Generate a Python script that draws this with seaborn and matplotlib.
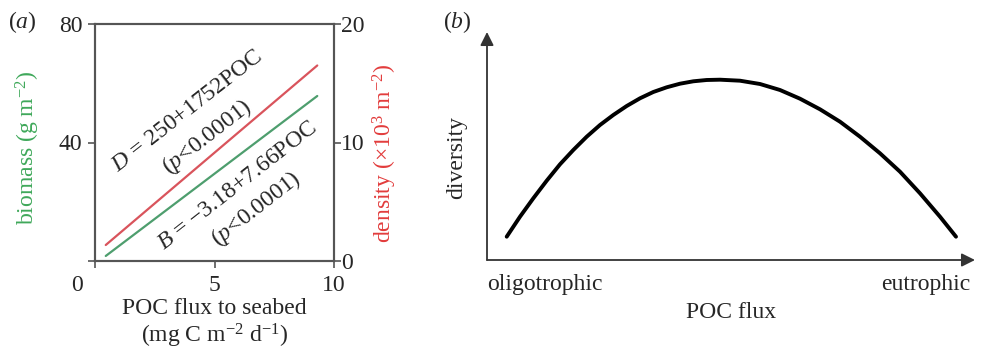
import numpy as np
import pandas as pd
import matplotlib
matplotlib.use("Agg")
import matplotlib.pyplot as plt
import seaborn as sns

# panel (a): fitted regression lines
poc = [0.45, 9.3]            # POC flux to seabed
biomass = [1.7, 55.7]        # g m-2 (left axis)
density = [1.35, 16.5]       # x10^3 m-2 (right axis)

# panel (b): conceptual hump curve (arbitrary units)
flux_b = [19.7, 33, 46.3, 59.7, 73, 86.3, 99.7, 113, 126.3, 139.7, 153, 166.3,
          179.7, 193, 206.3, 219.7, 233, 253, 273, 293, 313, 333, 353, 373,
          393, 413, 433, 453, 469]
div_b = [23.3, 43.3, 61.7, 79.3, 95.7, 110, 123.3, 135, 145, 154, 161.7, 168,
         172.7, 176.3, 178.7, 180, 180.3, 179.3, 176, 170, 161.3, 150.7, 138.3,
         123.3, 106.7, 88.3, 66.7, 43.3, 23.3]

sns.set_theme(style="ticks")
plt.rcParams["font.family"] = ["Liberation Serif", "DejaVu Serif"]
plt.rcParams["mathtext.fontset"] = "custom"
plt.rcParams["mathtext.rm"] = "Liberation Serif"
plt.rcParams["mathtext.it"] = "Liberation Serif:italic"
FS = 17
plt.rcParams["font.size"] = FS

green = "#3fa85a"
red = "#e23c3c"
spine_col = "#555555"

fig = plt.figure(figsize=(9.81, 3.5), dpi=100)
W, H = 981, 350

# ---------- panel (a)
ax1 = fig.add_axes([95 / W, 1 - 261 / H, 239 / W, 237 / H])
df_a = pd.DataFrame({"poc": poc, "biomass": biomass, "density": density})
sns.lineplot(data=df_a, x="poc", y="biomass", ax=ax1, color="#4e9e6e", lw=1.6)
ax1.set_xlim(0, 10)
ax1.set_ylim(0, 80)
ax1.set_xticks([0, 5, 10])
ax1.set_xticklabels(["", "5", "10"])
ax1.set_yticks([0, 40, 80])
ax1.set_yticklabels(["", "40", "80"])
ax1.tick_params(direction="out", length=5, width=1.2, color=spine_col, labelsize=FS, pad=4)
ax1.tick_params(axis="x", pad=5)
ax1.text(-0.75, -0.06, "0", transform=matplotlib.transforms.blended_transform_factory(ax1.transData, ax1.transAxes),
         ha="center", va="top", fontsize=FS)

ax1r = ax1.twinx()
sns.lineplot(data=df_a, x="poc", y="density", ax=ax1r, color="#d9545c", lw=1.6)
ax1r.set_ylim(0, 20)
ax1r.set_yticks([0, 10, 20])
ax1r.tick_params(direction="out", length=5, width=1.2, color=spine_col, labelsize=FS, pad=0)

for a in (ax1, ax1r):
    for s in a.spines.values():
        s.set_color(spine_col)
        s.set_linewidth(1.5)

ax1.set_xlabel("POC flux to seabed\n(mg C m$^{-2}$ d$^{-1}$)", fontsize=FS, linespacing=1.15)
ax1.xaxis.set_label_coords(0.5, -0.155)
ax1.set_ylabel("biomass (g m$^{-2}$)", color=green, fontsize=FS)
ax1.yaxis.set_label_coords(-0.222, 0.48)
ax1r.set_ylabel("density (\u00d710$^{3}$ m$^{-2}$)", color=red, fontsize=FS)
ax1r.yaxis.set_label_coords(1.155, 0.455)

rot = 38
ax1.text(3.85, 50.5, "$D$ = 250+1752POC", rotation=rot, rotation_mode="anchor",
         ha="center", va="center", fontsize=FS)
ax1.text(4.7, 42, "($p$<0.0001)", rotation=rot, rotation_mode="anchor",
         ha="center", va="center", fontsize=FS)
ax1.text(5.95, 25.3, "$B$ = \u22123.18+7.66POC", rotation=rot, rotation_mode="anchor",
         ha="center", va="center", fontsize=FS)
ax1.text(6.75, 17.5, "($p$<0.0001)", rotation=rot, rotation_mode="anchor",
         ha="center", va="center", fontsize=FS)

fig.text(8 / W, 1 - 22 / H, "($a$)", ha="left", va="center", fontsize=FS)

# ---------- panel (b)
ax2 = fig.add_axes([487 / W, 1 - 260 / H, 488 / W, 228 / H])
df_b = pd.DataFrame({"flux": flux_b, "diversity": div_b})
sns.lineplot(data=df_b, x="flux", y="diversity", ax=ax2, color="black", lw=2.8, sort=False)
ax2.set_xlim(0, 488)
ax2.set_ylim(0, 228)
for s in ax2.spines.values():
    s.set_visible(False)
ax2.set_xticks([])
ax2.set_yticks([])
arrow_kw = dict(arrowstyle="-|>", color="#333333", lw=1.3, mutation_scale=20, shrinkA=0, shrinkB=0)
ax2.annotate("", xy=(1, 0), xytext=(0, 0), xycoords="axes fraction", textcoords="axes fraction",
             arrowprops=arrow_kw)
ax2.annotate("", xy=(0, 1), xytext=(0, 0), xycoords="axes fraction", textcoords="axes fraction",
             arrowprops=arrow_kw)

ax2.set_xlabel("POC flux", fontsize=FS)
ax2.xaxis.set_label_coords(0.5, -0.185)
ax2.set_ylabel("diversity", fontsize=FS)
ax2.yaxis.set_label_coords(-0.04, 0.45)
ax2.text(0.0, -0.06, "oligotrophic", transform=ax2.transAxes, ha="left", va="top", fontsize=FS)
ax2.text(0.99, -0.06, "eutrophic", transform=ax2.transAxes, ha="right", va="top", fontsize=FS)

fig.text(443 / W, 1 - 22 / H, "($b$)", ha="left", va="center", fontsize=FS)

fig.savefig("out.png", dpi=100)
